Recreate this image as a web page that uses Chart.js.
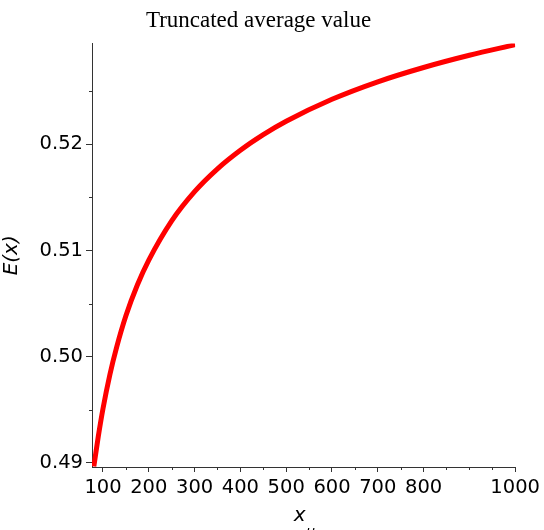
<!DOCTYPE html>
<html>
<head>
<meta charset="utf-8">
<script src="https://cdn.jsdelivr.net/npm/chart.js@4.4.1/dist/chart.umd.min.js"></script>
<style>
  html, body { margin: 0; padding: 0; background: #fff; }
  #wrap { width: 544px; height: 530px; position: relative; }
</style>
</head>
<body>
<div id="wrap"><canvas id="truncChart"></canvas></div>
<script>
// values
const xValues = [80, 90, 100, 115, 130, 150, 175, 200, 250, 300, 350, 400, 450, 500, 600, 700, 800, 900, 1000];
const eValues = [0.48965, 0.49255, 0.4951, 0.4983, 0.50092, 0.50385, 0.50675, 0.5091, 0.5128, 0.51555, 0.5177, 0.51945, 0.52092, 0.52218, 0.52425, 0.5259, 0.52725, 0.5284, 0.5294];

const xMajorTicks = [100, 200, 300, 400, 500, 600, 700, 800, 1000];
const xMinorTicks = [150, 250, 350, 450, 550, 650, 750, 850, 900, 950];
const yMajorTicks = [0.49, 0.50, 0.51, 0.52];
const yMinorTicks = [0.495, 0.505, 0.515, 0.525];

const axisColor = "#333333";
const tickFont = { family: "DejaVu Sans", size: 19.5 };

const points = xValues.map((x, i) => ({ x: x, y: eValues[i] }));

// short minor tick marks plus the x_u label
const extras = {
    id: "extras",
    afterDraw(chart) {
        const c = chart.ctx;
        const xs = chart.scales.x, ys = chart.scales.y;
        const area = chart.chartArea;
        c.save();
        c.strokeStyle = axisColor;
        c.lineWidth = 1;
        c.beginPath();
        xMinorTicks.forEach(v => {
            const px = Math.round(xs.getPixelForValue(v)) + 0.5;
            c.moveTo(px, area.bottom);
            c.lineTo(px, area.bottom + 3);
        });
        yMinorTicks.forEach(v => {
            const py = Math.round(ys.getPixelForValue(v)) + 0.5;
            c.moveTo(area.left, py);
            c.lineTo(area.left - 3, py);
        });
        c.stroke();

        const cx = (area.left + area.right) / 2;
        c.fillStyle = "#000";
        c.textAlign = "center";
        c.textBaseline = "alphabetic";
        c.font = "italic 20px 'DejaVu Sans'";
        c.fillText("x", cx - 4, 521);
        c.font = "italic 14px 'DejaVu Sans'";
        c.fillText("u", cx + 7, 536);
        c.restore();
    }
};

const ctx = document.getElementById("truncChart").getContext("2d");

new Chart(ctx, {
    type: "line",
    data: {
        datasets: [
            {
                label: "E(x)",
                data: points,
                borderColor: "#ff0000",
                borderWidth: 5,
                pointRadius: 0,
                fill: false,
                cubicInterpolationMode: "monotone"
            }
        ]
    },
    options: {
        responsive: true,
        maintainAspectRatio: false,
        animation: false,
        layout: {
            padding: { left: 0, right: 27, top: 0, bottom: 0 }
        },
        scales: {
            x: {
                type: "linear",
                min: 76,
                max: 1000,
                afterBuildTicks: scale => {
                    scale.ticks = xMajorTicks.map(v => ({ value: v }));
                },
                afterFit: scale => { scale.height = 63; },
                grid: {
                    drawOnChartArea: false,
                    tickLength: 5,
                    tickColor: axisColor
                },
                border: { color: axisColor, width: 1 },
                ticks: {
                    color: "#000",
                    font: tickFont,
                    padding: 4,
                    maxRotation: 0,
                    autoSkip: false,
                    callback: value => String(value)
                },
                title: { display: false }
            },
            y: {
                type: "linear",
                min: 0.4896,
                max: 0.5295,
                afterBuildTicks: scale => {
                    scale.ticks = yMajorTicks.map(v => ({ value: v }));
                },
                afterFit: scale => { scale.width = 92; },
                grid: {
                    drawOnChartArea: false,
                    tickLength: 6,
                    tickColor: axisColor
                },
                border: { color: axisColor, width: 1 },
                ticks: {
                    color: "#000",
                    font: tickFont,
                    padding: 3,
                    autoSkip: false,
                    callback: value => value.toFixed(2)
                },
                title: {
                    display: true,
                    text: "E(x)",
                    color: "#000",
                    font: { family: "DejaVu Sans", size: 20, style: "italic" },
                    padding: { top: 0, bottom: 0 }
                }
            }
        },
        plugins: {
            legend: { display: false },
            tooltip: { enabled: false },
            title: {
                display: true,
                text: "Truncated average value",
                color: "#000",
                font: { family: "Liberation Serif", size: 23, weight: "normal" },
                padding: { top: 7, bottom: 9 }
            }
        }
    },
    plugins: [extras]
});
</script>
</body>
</html>
